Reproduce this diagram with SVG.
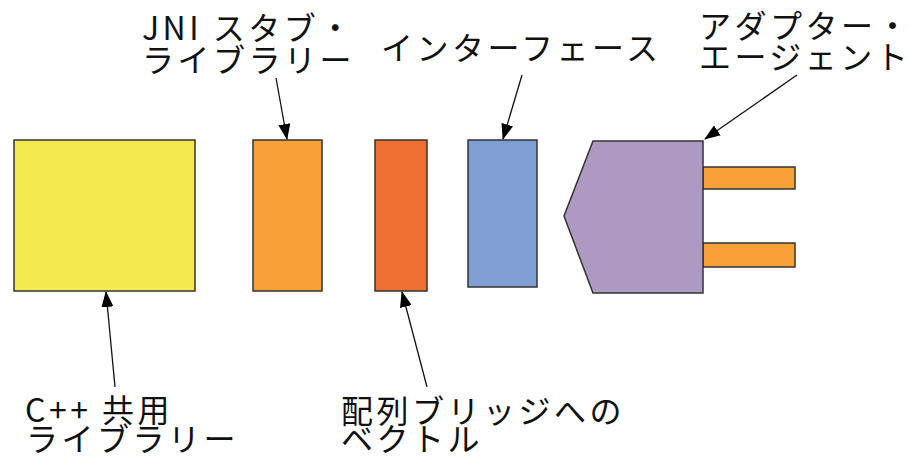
<svg xmlns="http://www.w3.org/2000/svg" width="908" height="460" viewBox="0 0 908 460">
<style>
.box{stroke:#333;stroke-width:1.5}
.lbl{font-family:"Noto Sans CJK JP","Liberation Sans",sans-serif;font-size:32px;letter-spacing:3.5px;fill:#111}
.con{stroke:#111;stroke-width:1.3;fill:none;marker-end:url(#ah)}
</style>
<defs>
<marker id="ah" viewBox="0 0 16 12" refX="15" refY="6" markerWidth="16" markerHeight="12" markerUnits="userSpaceOnUse" orient="auto">
<path d="M0,0 L16,6 L0,12 Z" fill="#000"/>
</marker>
</defs>
<rect width="908" height="460" fill="#fff"/>
<g id="cpp-lib"><rect class="box" x="14" y="140" width="181" height="151" fill="#F4EA4E"/></g>
<g id="jni-stub"><rect class="box" x="253" y="140" width="69" height="151" fill="#F7A136"/></g>
<g id="array-bridge"><rect class="box" x="375" y="140" width="52" height="151" fill="#F07033"/></g>
<g id="interface"><rect class="box" x="468" y="140" width="69" height="147" fill="#7F9ED3"/></g>
<g id="adapter">
<rect class="box" x="703" y="167" width="92" height="22" fill="#F7A136"/>
<rect class="box" x="703" y="243" width="92" height="24" fill="#F7A136"/>
<polygon class="box" points="593,141 703,141 703,293 593,293 564,216" fill="#AE99C2"/>
</g>
<g id="labels">
<text class="lbl" x="142" y="40" letter-spacing="2.5">JNI スタブ・</text>
<text class="lbl" x="142" y="72">ライブラリー</text>
<text class="lbl" x="381" y="60" letter-spacing="2.5">インターフェース</text>
<text class="lbl" x="699" y="38" letter-spacing="1">アダプター・</text>
<text class="lbl" x="699" y="69" letter-spacing="1">エージェント</text>
<text class="lbl" x="25" y="422">C++ 共用</text>
<text class="lbl" x="26" y="451">ライブラリー</text>
<text class="lbl" x="341" y="423">配列ブリッジへの</text>
<text class="lbl" x="341" y="451">ベクトル</text>
</g>
<g id="connectors">
<line class="con" x1="276" y1="78" x2="287" y2="139"/>
<line class="con" x1="522" y1="75" x2="503" y2="139"/>
<line class="con" x1="797" y1="75" x2="705" y2="139"/>
<line class="con" x1="115" y1="387" x2="106" y2="292"/>
<line class="con" x1="427" y1="387" x2="402" y2="292"/>
</g>
</svg>
